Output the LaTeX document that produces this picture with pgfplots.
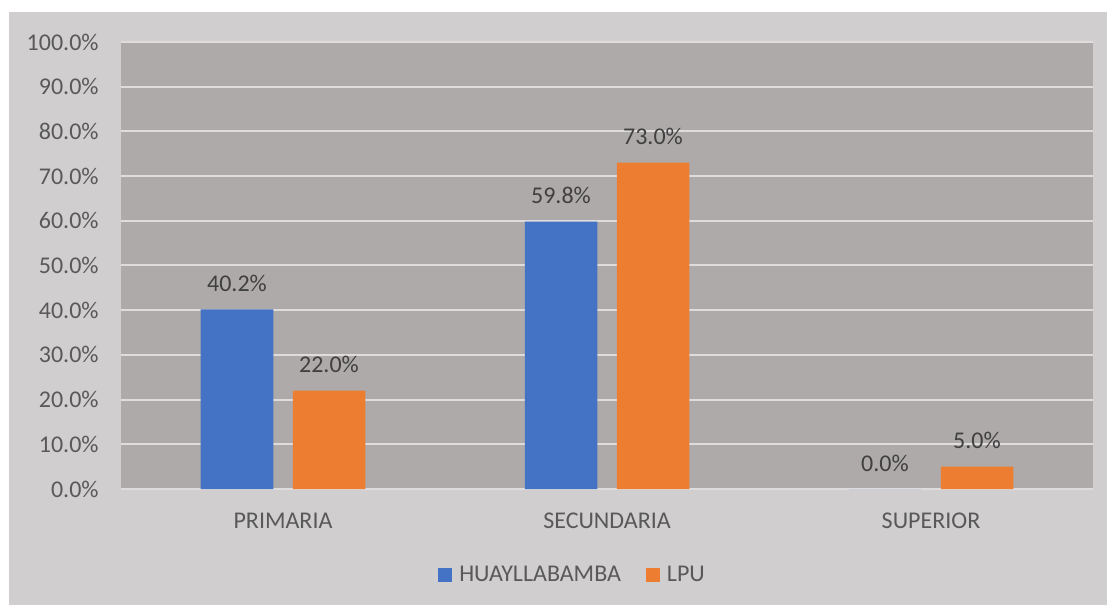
\documentclass[border=0pt]{standalone}
\usepackage{pgfplots}
\pgfplotsset{compat=1.18}
\usepackage{fontspec}
\setmainfont{Carlito}
\definecolor{chartbg}{RGB}{208,206,207}
\definecolor{plotbg}{RGB}{174,170,169}
\definecolor{gridc}{RGB}{222,220,220}
\definecolor{ticktext}{RGB}{89,89,89}
\definecolor{labeltext}{RGB}{64,64,64}
\definecolor{cblue}{RGB}{68,114,196}
\definecolor{corange}{RGB}{237,125,49}
\begin{document}
\begin{tikzpicture}
\fill[white] (-60.5pt,-58pt) rectangle (493pt,244.5pt);
\fill[chartbg] (-56pt,-58pt) rectangle (493pt,238.5pt);
\begin{axis}[
  at={(0pt,0pt)}, anchor=south west,
  scale only axis, width=486pt, height=223.5pt,
  axis background/.style={fill=plotbg},
  ybar=9.75pt, bar width=36.25pt,
  xmin=-0.5, xmax=2.5, ymin=0, ymax=100,
  xtick={0,1,2}, xticklabels={PRIMARIA,SECUNDARIA,SUPERIOR},
  ytick={0,10,...,100},
  yticklabels={0.0\%,10.0\%,20.0\%,30.0\%,40.0\%,50.0\%,60.0\%,70.0\%,80.0\%,90.0\%,100.0\%},
  ymajorgrids, major grid style={draw=gridc, line width=1pt},
  axis line style={draw=none},
  major tick length=0pt,
  font=\fontsize{12pt}{14pt}\selectfont,
  yticklabel style={anchor=east, inner sep=0pt, xshift=-11pt, text=ticktext},
  xticklabel style={anchor=north, inner sep=0pt, yshift=-12pt, text=ticktext},
  /pgf/number format/assume math mode=true,
  nodes near coords={\pgfmathprintnumber[fixed,fixed zerofill,precision=1]{\pgfplotspointmeta}\%},
  every node near coord/.append style={anchor=base, inner sep=0pt, yshift=9pt, text=labeltext, font=\fontsize{12pt}{14pt}\selectfont},
  legend style={at={(0.326,-0.192)}, anchor=west, draw=none, fill=none, inner sep=0pt,
    nodes={inner sep=0pt, text=ticktext, font=\fontsize{12pt}{14pt}\selectfont},
    legend columns=2,
    /tikz/every odd column/.append style={column sep=3.5pt},
    /tikz/every even column/.append style={column sep=12.5pt}},
  legend cell align=left,
  legend image code/.code={\fill[#1,draw=none] (0pt,-3.5pt) rectangle (7pt,3.5pt);},
]
\addplot[fill=cblue, draw=none] coordinates {(0,40.2) (1,59.8) (2,0.0)};
\addplot[fill=corange, draw=none] coordinates {(0,22.0) (1,73.0) (2,5.0)};
\legend{HUAYLLABAMBA,LPU}
\end{axis}
\pgfresetboundingbox
\useasboundingbox (-60.5pt,-58pt) rectangle (493pt,244.5pt);
\end{tikzpicture}
\end{document}
